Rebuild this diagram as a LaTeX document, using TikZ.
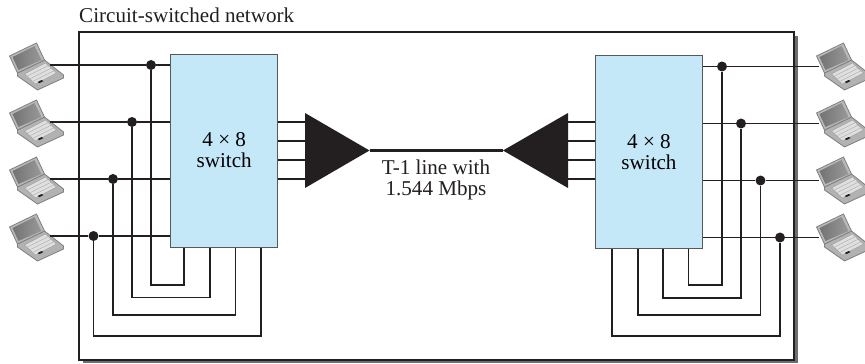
\documentclass[tikz,border=0pt]{standalone}
\usepackage{fontspec}
\setmainfont{Liberation Serif}
\definecolor{swblue}{HTML}{C5E8F8}
\definecolor{inkblack}{HTML}{231F20}
\definecolor{shadowgray}{HTML}{6D6E71}
\tikzset{
  wire/.style={draw=inkblack,line width=1.3pt},
  junction/.style={circle,fill=inkblack,inner sep=0pt,minimum size=8.5pt},
  switchbox/.style={draw=inkblack!75,line width=0.8pt,fill=swblue,align=center,minimum width=3.225cm,minimum height=5.79cm},
  caption/.style={align=center,text=inkblack,inner sep=0pt},
  laptop/.pic={
    \fill[gray!60,draw=gray,line width=0.7pt] (8,31)--(35,18)--(54,33)--(54,36)--(28,48)--(8,34)--cycle;
    \fill[gray!25,draw=gray!80,line width=0.3pt] (15,32)--(36,21)--(47,31)--(26,42)--cycle;
    \draw[gray!70,line width=0.35pt] (18,34)--(39,23.5) (21,36.5)--(42,26) (24,39)--(45,28.5);
    \fill[inkblack] (28,40)--(32,38)--(34,39)--(30,41)--cycle;
    \fill[gray!55,draw=gray,line width=0.7pt] (0,14)--(27,1)--(35,18)--(8,31)--cycle;
    \shade[left color=gray!90!black,right color=gray!80] (3,15)--(25,4)--(32,18)--(9,28)--cycle;
    \coordinate (-east) at (40,23);
    \coordinate (-west) at (2,24.5);
  }
}
\begin{document}
\begin{tikzpicture}[x=0.03cm,y=-0.03cm,font=\fontsize{18}{17.85}\selectfont]
    \useasboundingbox (0,0) rectangle (865,364);
    \fill[shadowgray] (83,36) rectangle (798,363);
    \draw[inkblack,fill=white,line width=1.5pt] (79,32) rectangle (794,360);
    \node[caption,anchor=west] (title) at (79,15) {Circuit-switched network};

    \pic (lap1) at (9.5,42) {laptop};
    \pic (lap2) at (9.5,99) {laptop};
    \pic (lap3) at (9.5,156) {laptop};
    \pic (lap4) at (9.5,213) {laptop};
    \pic (lap5) at (816.5,42) {laptop};
    \pic (lap6) at (816.5,99) {laptop};
    \pic (lap7) at (816.5,156) {laptop};
    \pic (lap8) at (816.5,213) {laptop};

    \node[junction] (dot1) at (151,65) {};
    \node[junction] (dot2) at (132,122) {};
    \node[junction] (dot3) at (113,179) {};
    \node[junction] (dot4) at (93.5,236) {};
    \node[junction] (dot5) at (722,66.5) {};
    \node[junction] (dot6) at (741,123.5) {};
    \node[junction] (dot7) at (760.5,180.5) {};
    \node[junction] (dot8) at (780,237.5) {};

    \coordinate (loop1) at (184,285);
    \coordinate (loop2) at (210,297.5);
    \coordinate (loop3) at (235.5,315);
    \coordinate (loop4) at (261,336);
    \coordinate (loop5) at (688.7,285);
    \coordinate (loop6) at (663,298);
    \coordinate (loop7) at (638,315);
    \coordinate (loop8) at (612,336);

    % wires go under the switches
    \draw[wire] (lap1-east) -- (dot1) -- (224,65);
    \draw[wire] (lap2-east) -- (dot2) -- (224,122);
    \draw[wire] (lap3-east) -- (dot3) -- (224,179);
    \draw[wire] (lap4-east) -- (dot4) -- (224,236);
    \draw[wire] (lap5-west) -- (dot5) -- (649,66.5);
    \draw[wire] (lap6-west) -- (dot6) -- (649,123.5);
    \draw[wire] (lap7-west) -- (dot7) -- (649,180.5);
    \draw[wire] (lap8-west) -- (dot8) -- (649,237.5);
    \draw[wire] (dot1) |- (loop1) -- (184,240);
    \draw[wire] (dot2) |- (loop2) -- (210,240);
    \draw[wire] (dot3) |- (loop3) -- (235.5,240);
    \draw[wire] (dot4) |- (loop4) -- (261,240);
    \draw[wire] (dot5) |- (loop5) -- (688.7,240);
    \draw[wire] (dot6) |- (loop6) -- (663,240);
    \draw[wire] (dot7) |- (loop7) -- (638,240);
    \draw[wire] (dot8) |- (loop8) -- (612,240);

    \node[switchbox] (sw1) at (224.2,150.5) {4 × 8\\switch};
    \node[switchbox] (sw2) at (649,151.7) {4 × 8\\switch};

    \coordinate (tip1) at (369.5,150.5);
    \coordinate (tip2) at (503,150.5);
    \coordinate (base1) at (305,150.5);
    \coordinate (base2) at (568,150.5);

    \draw[wire] (sw1.east |- 0,122) -- (base1 |- 0,122);
    \draw[wire] (sw1.east |- 0,141) -- (base1 |- 0,141);
    \draw[wire] (sw1.east |- 0,160) -- (base1 |- 0,160);
    \draw[wire] (sw1.east |- 0,179) -- (base1 |- 0,179);
    \draw[wire] (sw2.west |- 0,122) -- (base2 |- 0,122);
    \draw[wire] (sw2.west |- 0,141) -- (base2 |- 0,141);
    \draw[wire] (sw2.west |- 0,160) -- (base2 |- 0,160);
    \draw[wire] (sw2.west |- 0,179) -- (base2 |- 0,179);

    \fill[inkblack] (tip1) -- (305,113) -- (305,188) -- cycle;
    \fill[inkblack] (tip2) -- (568,113) -- (568,188) -- cycle;
    \draw[inkblack,line width=3.2pt] (tip1) -- (tip2);
    \node[caption] (trunk) at (436,179.5) {T-1 line with\\1.544 Mbps};
\end{tikzpicture}
\end{document}
